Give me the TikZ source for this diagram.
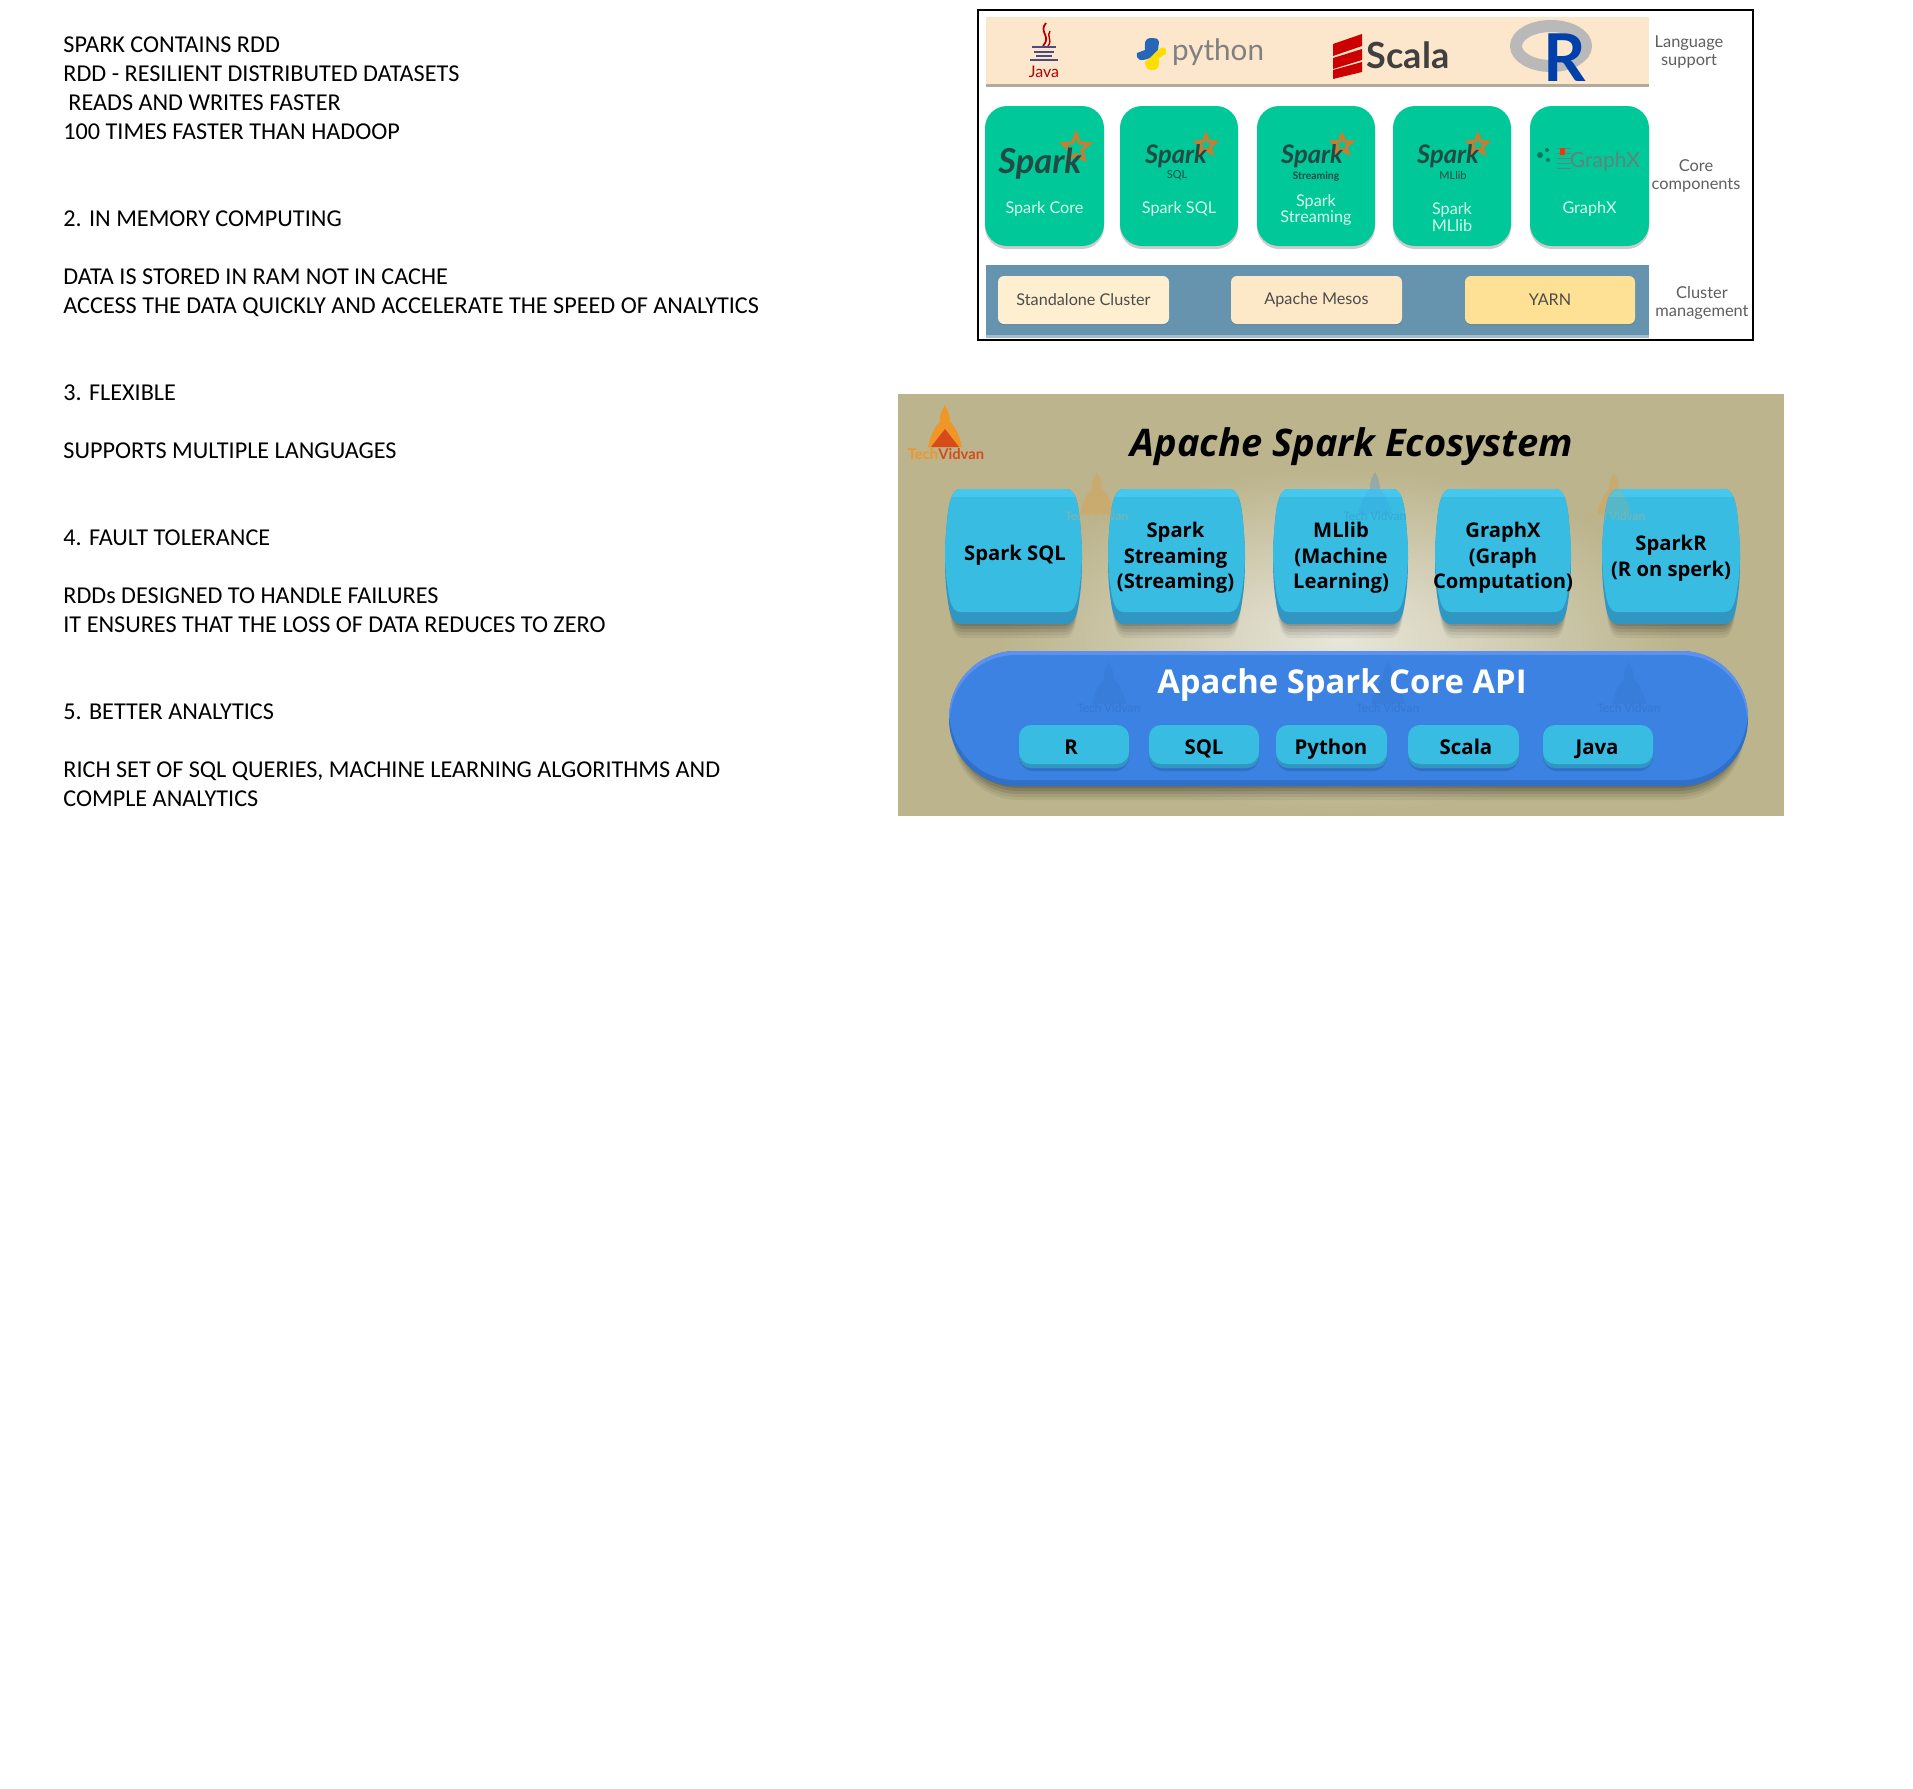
\documentclass[tikz,border=0pt]{standalone}
\usepackage{fontspec}
\setmainfont{Carlito}
\newfontfamily\lat{Lato}
\newfontfamily\ops{Open Sans}
\usetikzlibrary{shadows,shapes.geometric}
\definecolor{peach}{RGB}{253,231,204}
\definecolor{bandedge}{RGB}{180,170,155}
\definecolor{teal}{RGB}{0,200,152}
\definecolor{slate}{RGB}{102,147,173}
\definecolor{cream}{RGB}{254,239,208}
\definecolor{creamb}{RGB}{253,232,200}
\definecolor{yarn}{RGB}{255,225,150}
\definecolor{tan}{RGB}{187,180,140}
\definecolor{glow}{RGB}{232,230,218}
\definecolor{cy}{RGB}{56,188,226}
\definecolor{cyd}{RGB}{50,150,195}
\definecolor{cyl}{RGB}{70,200,238}
\definecolor{core}{RGB}{60,130,226}
\definecolor{corel}{RGB}{92,145,240}
\definecolor{cored}{RGB}{50,112,200}
\definecolor{sparkd}{RGB}{35,75,70}
\definecolor{sparko}{RGB}{200,125,50}
\definecolor{pale}{RGB}{215,250,235}
\definecolor{labgray}{RGB}{95,95,95}
\definecolor{flameo}{RGB}{240,150,40}
\definecolor{flamer}{RGB}{215,75,25}
\tikzset{
  body/.style={anchor=base west,inner sep=0pt,font=\fontsize{12.1}{14}\selectfont,text=black},
  lang/.style={inner sep=0pt,align=center,font=\lat\fontsize{8.2}{8.6}\selectfont,text=labgray},
  cardtxt/.style={inner sep=0pt,align=center,font=\lat\fontsize{8.1}{8.2}\selectfont,text=pale},
  clustxt/.style={inner sep=0pt,font=\lat\fontsize{8.1}{9}\selectfont,text=labgray!80!black},
  card/.style={fill=teal,rounded corners=11pt,drop shadow={shadow xshift=0pt,shadow yshift=-1.5pt,fill=black,opacity=.2}},
  clus/.style={rounded corners=3pt,drop shadow={shadow xshift=0pt,shadow yshift=-.5pt,fill=black,opacity=.12}},
  barreltxt/.style={inner sep=0pt,align=center,text=black,font=\ops\bfseries\fontsize{10.1}{12.8}\selectfont},
  chip/.style={inner sep=0pt,text height=7.4pt,text depth=2.2pt,text=black,font=\ops\bfseries\fontsize{10.2}{12}\selectfont},
  wmtxt/.style={inner sep=0pt,font=\fontsize{6.5}{7}\selectfont},
  sparkword/.style={inner sep=0pt,text=sparkd,font=\lat\bfseries\itshape\fontsize{#1}{#1}\selectfont},
  sparksub/.style={inner sep=0pt,text=sparkd,font=\lat\fontsize{5.5}{6}\selectfont},
}
% barrel outline: x1 x2 y1 y2
\newcommand\barrelpath[4]{({#1+16},#3) -- ({#2-16},#3) .. controls ({#2-7},#3) and ({#2-4},{#3+12}) .. ({#2-2},{#3+32}) .. controls ({#2-1},{#3+45}) and (#2,{#3+55}) .. (#2,{(#3+#4)/2}) .. controls (#2,{#4-45}) and ({#2-1},{#4-35}) .. ({#2-3},{#4-22}) .. controls ({#2-5},{#4-8}) and ({#2-8},#4) .. ({#2-16},#4) -- ({#1+16},#4) .. controls ({#1+8},#4) and ({#1+5},{#4-8}) .. ({#1+3},{#4-22}) .. controls ({#1+1},{#4-35}) and (#1,{#4-45}) .. (#1,{(#3+#4)/2}) .. controls (#1,{#3+55}) and ({#1+1},{#3+45}) .. ({#1+2},{#3+32}) .. controls ({#1+4},{#3+12}) and ({#1+7},#3) .. ({#1+16},#3) -- cycle}
\newcommand\barrelbox[4]{%
  \foreach \s/\o in {14/.05,11/.06,8/.08,5/.09,2/.10}{\fill[black,opacity=\o] \barrelpath{#1+2}{#2-2}{#3+\s}{#4+\s};}
  \fill[cyd] \barrelpath{#1}{#2}{#3}{#4};
  \fill[cy] \barrelpath{#1}{#2}{#3}{#4-12};
  \begin{scope}\clip ({#1},#3) rectangle ({#2},{#3+7});\fill[cyl] \barrelpath{#1}{#2}{#3}{#4};\end{scope}
}
\newcommand\chipbox[4]{%
  \fill[cored,rounded corners=7pt] (#1,{#3+3}) rectangle (#2,{#4+3});
  \fill[cyd,rounded corners=6pt] (#1,#3) rectangle (#2,#4);
  \fill[cy,rounded corners=6pt] (#1,#3) rectangle (#2,{#4-4});
}
% flame figure
\newcommand\flamepath{(0,0) .. controls (3,6) and (5,10) .. (5,17) .. controls (11,22) and (15,33) .. (17,42) -- (-17,42) .. controls (-15,33) and (-11,22) .. (-5,17) .. controls (-6,10) and (-3,6) .. (0,0) -- cycle}
\newcommand\flame[5]{\begin{scope}[shift={(#1,#2)},x=#3*0.5pt,y=-#3*0.5pt]
  \fill[#4,opacity=#5] \flamepath;
  \fill[flamer,opacity=#5] (0,24) -- (14,42) -- (-14,42) -- cycle;
  \end{scope}}
\newcommand\wmflame[4]{\begin{scope}[shift={(#1,#2)},x=0.5pt,y=-0.5pt]
  \fill[#3,opacity=#4] \flamepath;\end{scope}}
\newcommand\starmark[3]{\node[star,star points=5,star point ratio=2.2,draw=sparko,line width=1.6pt,fill=none,minimum size=#3,inner sep=0pt] (#1) at #2 {};}
\begin{document}
\begin{tikzpicture}[x=0.5pt,y=-0.5pt]
\useasboundingbox (0,0) rectangle (1913,1789);
\fill[white] (0,0) rectangle (1913,1789);

% ---------- left text
\node[body] (t1) at (63,52) {SPARK CONTAINS RDD};
\node[body] (t2) at (63,81) {RDD - RESILIENT DISTRIBUTED DATASETS};
\node[body] (t3) at (68,110) {READS AND WRITES FASTER};
\node[body] (t4) at (63,139) {100 TIMES FASTER THAN HADOOP};
\node[body] (t5) at (63,226) {2. IN MEMORY COMPUTING};
\node[body] (t6) at (63,284) {DATA IS STORED IN RAM NOT IN CACHE};
\node[body] (t7) at (63,313) {ACCESS THE DATA QUICKLY AND ACCELERATE THE SPEED OF ANALYTICS};
\node[body] (t8) at (63,400) {3. FLEXIBLE};
\node[body] (t9) at (63,458) {SUPPORTS MULTIPLE LANGUAGES};
\node[body] (t10) at (63,545) {4. FAULT TOLERANCE};
\node[body] (t11) at (63,603) {RDDs DESIGNED TO HANDLE FAILURES};
\node[body] (t12) at (63,632) {IT ENSURES THAT THE LOSS OF DATA REDUCES TO ZERO};
\node[body] (t13) at (63,719) {5. BETTER ANALYTICS};
\node[body] (t14) at (63,777) {RICH SET OF SQL QUERIES, MACHINE LEARNING ALGORITHMS AND};
\node[body] (t15) at (63,806) {COMPLE ANALYTICS};

% ---------- top panel
\draw[black,line width=1pt] (978,10) rectangle (1753,340);
\fill[bandedge] (986,20) rectangle (1649,87);
\fill[peach] (986,17) rectangle (1649,84);
% Java
\draw[red!70!black,line width=.9pt] (1046,23) .. controls (1038,32) and (1052,36) .. (1043,46);
\draw[red!70!black,line width=.7pt] (1050,31) .. controls (1046,36) and (1053,40) .. (1048,46);
\draw[labgray!80!blue,line width=1pt] (1032,47) -- (1056,47) (1034,52) -- (1054,52) (1036,56) -- (1052,56) (1030,60) -- (1058,60);
\node[inner sep=0pt,text=red!70!black,font=\lat\fontsize{8}{8}\selectfont] (java) at (1044,72) {Java};
% Python
\fill[blue!55!teal!70!gray] (1152,38) .. controls (1143,38) and (1145,44) .. (1145,50) -- (1137,53) .. controls (1136,60) and (1140,62) .. (1150,58) -- (1158,50) -- (1159,42) .. controls (1158,38) and (1155,38) .. (1152,38) -- cycle;
\fill[yellow!80!orange] (1152,70) .. controls (1160,70) and (1159,64) .. (1159,58) -- (1166,54) .. controls (1167,46) and (1163,46) .. (1158,50) -- (1150,58) -- (1145,62) .. controls (1145,68) and (1148,70) .. (1152,70) -- cycle;
\node[inner sep=0pt,text=gray,font=\lat\fontsize{14.8}{15}\selectfont] (python) at (1218,52) {python};
% Scala
\fill[red!80!black] (1333,44) -- (1362,34) -- (1362,46) -- (1333,56) -- cycle;
\fill[red!80!black] (1333,58) -- (1362,49) -- (1362,60) -- (1333,69) -- cycle;
\fill[red!80!black] (1333,70) -- (1362,62) -- (1362,72) -- (1333,79) -- cycle;
\node[inner sep=0pt,text=black!75,font=\lat\bfseries\fontsize{18}{18}\selectfont] (scala) at (1408,55) {Scala};
% R
\draw[gray!55,line width=6pt] (1551,46) ellipse [x radius=35,y radius=20];
\node[inner sep=0pt,text=blue!60!teal!80!black,font=\lat\bfseries\fontsize{33}{33}\selectfont] (rlogo) at (1565,58) {R};
\node[lang] (langlab) at (1689,52) {Language\\support};

% core cards
\node[card,minimum width=59.5pt,minimum height=70pt,inner sep=0pt] (c1) at (1044.5,176) {};
\node[card,minimum width=59pt,minimum height=70pt,inner sep=0pt] (c2) at (1179,176) {};
\node[card,minimum width=59pt,minimum height=70pt,inner sep=0pt] (c3) at (1316,176) {};
\node[card,minimum width=59pt,minimum height=70pt,inner sep=0pt] (c4) at (1452,176) {};
\node[card,minimum width=59.5pt,minimum height=70pt,inner sep=0pt] (c5) at (1589.5,176) {};
\starmark{s1}{(1076,148)}{14pt}
\starmark{s2}{(1206,145)}{10pt}
\starmark{s3}{(1342,145)}{10pt}
\starmark{s4}{(1478,145)}{10pt}
\node[sparkword=17.2] (w1) at (1040,164) {Spark};
\node[sparkword=12.8] (w2) at (1176,156) {Spark};
\node[sparkword=12.8] (w3) at (1312,156) {Spark};
\node[sparkword=12.8] (w4) at (1448,156) {Spark};
\node[sparksub] (sub2) at (1177,175) {SQL};
\node[sparksub,font=\lat\bfseries\fontsize{5.2}{6}\selectfont] (sub3) at (1316,177) {Streaming};
\node[sparksub] (sub4) at (1453,175) {MLlib};
\foreach \yy in {148,153,158,163,168}{\draw[sparkd!70,line width=.5pt] (1557,\yy) -- (1571,\yy);}
\fill[red!60!orange] (1560,148) rectangle (1565,155);
\fill[teal!60!black] (1540,155) circle (1.5pt) (1547,150) circle (1pt) (1548,160) circle (1pt);
\node[inner sep=0pt,text=sparkd!70,font=\lat\fontsize{10.5}{10}\selectfont] (gx) at (1605,162) {GraphX};
\node[cardtxt] (ct1) at (1044.5,209) {Spark Core};
\node[cardtxt] (ct2) at (1179,209) {Spark SQL};
\node[cardtxt] (ct3) at (1316,210) {Spark\\Streaming};
\node[cardtxt] (ct4) at (1452,217) {Spark\\MLlib};
\node[cardtxt] (ct5) at (1589.5,209) {GraphX};
\node[lang] (corelab) at (1696,176) {Core\\components};

% cluster band
\fill[slate!60!white] (986,268) rectangle (1649,338);
\fill[slate] (986,265) rectangle (1649,335);
\node[clus,fill=cream,minimum width=85.5pt,minimum height=24pt,inner sep=0pt] (b1) at (1083.5,300) {};
\node[clus,fill=creamb,minimum width=85.5pt,minimum height=24pt,inner sep=0pt] (b2) at (1316.5,300) {};
\node[clus,fill=yarn,minimum width=85pt,minimum height=24pt,inner sep=0pt] (b3) at (1550,300) {};
\node[clustxt] at (b1) {Standalone Cluster};
\node[clustxt] at (b2) {Apache Mesos};
\node[clustxt] at (b3) {YARN};
\node[lang] (cluslab) at (1702,303) {Cluster\\management};

% ---------- ecosystem panel
\fill[tan] (898,394) rectangle (1784,816);
\shade[inner color=glow,outer color=tan] (1340,640) ellipse [x radius=340,y radius=172];
\flame{945}{405}{1}{flameo}{1}
\node[inner sep=0pt,font=\lat\bfseries\fontsize{7.4}{8}\selectfont] (tv) at (946,454) {\textcolor{flameo}{Tech}\textcolor{flamer}{Vidvan}};
\node[inner sep=0pt,text=black,font=\ops\bfseries\itshape\fontsize{19}{20}\selectfont] (title) at (1352,447) {Apache Spark Ecosystem};

\wmflame{1097}{472}{flameo!60!tan}{.35}
\wmflame{1375}{472}{core}{.18}
\wmflame{1614}{472}{flameo!60!tan}{.35}

\barrelbox{945}{1082}{489}{624}
\barrelbox{1108}{1245}{489}{624}
\barrelbox{1273}{1408}{489}{624}
\barrelbox{1435}{1571}{489}{624}
\barrelbox{1602}{1740}{489}{624}

\wmflame{1097}{472}{flameo!60!tan}{.18}
\wmflame{1375}{472}{core}{.12}
\wmflame{1614}{472}{flameo!60!tan}{.18}
\node[wmtxt,text=tan!85!flameo,opacity=.5] (wa) at (1097,516) {Tech Vidvan};
\node[wmtxt,text=cyd,opacity=.5] (wb) at (1375,516) {Tech Vidvan};
\node[wmtxt,text=tan!85!flameo,opacity=.5] (wc) at (1614,516) {Tech Vidvan};

\node[barreltxt] (p1) at (1015,555) {Spark SQL};
\node[barreltxt] (p2) at (1175.5,558) {Spark\\Streaming\\(Streaming)};
\node[barreltxt] (p3) at (1341,558) {MLlib\\(Machine\\Learning)};
\node[barreltxt] (p4) at (1503,558) {GraphX\\(Graph\\Computation)};
\node[barreltxt] (p5) at (1671,558) {SparkR\\(R on sperk)};

% core API
\foreach \s/\o in {14/.05,11/.07,8/.09,5/.11,2/.13}{\fill[black,opacity=\o,rounded corners=33pt] (953,{651+\s}) rectangle (1744,{786+\s});}
\fill[cored,rounded corners=33.5pt] (949,651) rectangle (1748,786);
\fill[corel,rounded corners=33.5pt] (949,651) rectangle (1748,776);
\fill[core,rounded corners=33pt] (950,655) rectangle (1747,780);

\wmflame{1109}{662}{cored}{.25}
\wmflame{1388}{662}{cored}{.25}
\wmflame{1629}{662}{cored}{.25}
\node[wmtxt,text=cored,opacity=.6] (we) at (1109,708) {Tech Vidvan};
\node[wmtxt,text=cored,opacity=.6] (wf) at (1388,708) {Tech Vidvan};
\node[wmtxt,text=cored,opacity=.6] (wg) at (1629,708) {Tech Vidvan};

\node[inner sep=0pt,text=white,font=\ops\bfseries\fontsize{16.4}{18}\selectfont] (api) at (1342,685) {Apache Spark Core API};

\chipbox{1019}{1129}{725}{768}
\chipbox{1149}{1259}{725}{768}
\chipbox{1276}{1387}{725}{768}
\chipbox{1408}{1519}{725}{768}
\chipbox{1543}{1653}{725}{768}
\node[chip] (k1) at (1071,749) {R};
\node[chip] (k2) at (1204,749) {SQL};
\node[chip] (k3) at (1331,749) {Python};
\node[chip] (k4) at (1466,749) {Scala};
\node[chip] (k5) at (1597,749) {Java};
\end{tikzpicture}
\end{document}
